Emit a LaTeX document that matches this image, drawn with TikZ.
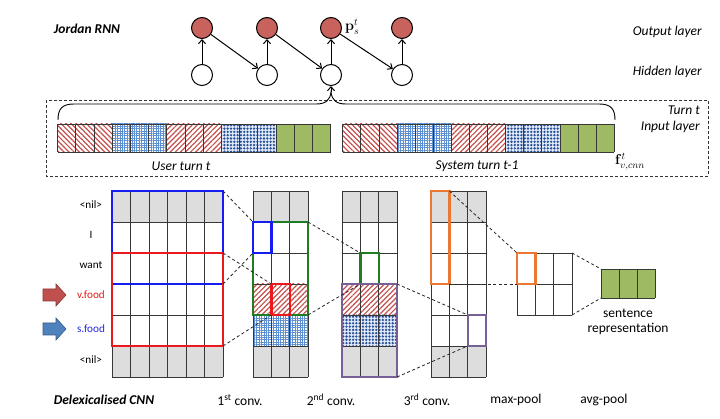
\documentclass[tikz,border=0pt]{standalone}
\usepackage[no-math]{fontspec}
\setmainfont{Carlito}
\usetikzlibrary{patterns.meta,arrows.meta}
\definecolor{nodered}{RGB}{200,98,92}
\definecolor{hatchred}{RGB}{195,80,76}
\definecolor{lblue}{RGB}{95,145,210}
\definecolor{dblue}{RGB}{40,80,150}
\definecolor{dbg}{RGB}{225,234,248}
\definecolor{sgreen}{RGB}{158,186,98}
\definecolor{cellgray}{RGB}{221,221,221}
\definecolor{boxblue}{RGB}{20,30,240}
\definecolor{boxred}{RGB}{235,25,30}
\definecolor{boxgreen}{RGB}{30,125,35}
\definecolor{boxpurple}{RGB}{120,95,150}
\definecolor{boxorange}{RGB}{235,120,50}
\definecolor{gridcol}{RGB}{55,55,55}
\definecolor{arrred}{RGB}{192,80,77}
\definecolor{arrblue}{RGB}{79,129,189}
\definecolor{txtred}{RGB}{230,30,30}
\definecolor{txtblue}{RGB}{40,40,220}
\tikzset{
  lab/.style={inner sep=0pt,font=\fontsize{13.5}{16}\selectfont},
  ilab/.style={inner sep=0pt,font=\fontsize{13.5}{16}\selectfont\itshape},
  blab/.style={inner sep=0pt,font=\fontsize{13.5}{16}\selectfont\bfseries\itshape},
  wlab/.style={inner sep=0pt,font=\fontsize{11.2}{13}\selectfont},
  mlab/.style={inner sep=0pt,font=\fontsize{14}{16}\selectfont},
  onode/.style={circle,draw,line width=1pt,fill=nodered,minimum size=21pt,inner sep=0pt},
  hnode/.style={circle,draw,line width=1pt,fill=white,minimum size=21pt,inner sep=0pt},
  arr/.style={line width=1pt,-{Straight Barb[length=4pt,width=7pt]}},
  gridln/.style={draw=gridcol,line width=0.7pt},
  redA/.style={pattern={Lines[angle=-45,distance=3.6pt,line width=1.2pt]},pattern color=hatchred},
  redB/.style={pattern={Lines[angle=45,distance=3.6pt,line width=1.2pt]},pattern color=hatchred},
  blueL/.style={pattern={Hatch[distance=2.4pt,line width=0.9pt]},pattern color=lblue},
  blueD/.style={fill=dbg,postaction={pattern={Dots[distance=3.3pt,radius=1.3pt]},pattern color=dblue}},
  greenF/.style={fill=sgreen},
  grayF/.style={fill=cellgray},
  tbox/.style={line width=2.4pt},
  dl/.style={draw=black!85,line width=0.8pt,dash pattern=on 3pt off 2.5pt},
}
\newcommand\cellgrid[6]{%
  \foreach \c in {0,...,#5} \draw[gridln] ({#1+\c*#3},#2) -- ({#1+\c*#3},{#2+#6*#4});
  \foreach \r in {0,...,#6} \draw[gridln] (#1,{#2+\r*#4}) -- ({#1+#5*#3},{#2+\r*#4});
}
\newcommand\bargroup[3]{% x0, cell width, style
  \foreach \k in {0,1,2} \path[#3] ({#1+\k*#2},124) rectangle ++(#2,28);
}
\begin{document}
\begin{tikzpicture}[x=1pt,y=-1pt]
\useasboundingbox (0,0) rectangle (720,419);
\fill[white] (0,0) rectangle (720,419);

% ---------------- Jordan RNN ----------------
\node[blab] (title) at (87,29) {Jordan RNN};
\node[ilab,anchor=east] (outl) at (702,32) {Output layer};
\node[ilab,anchor=east] (hidl) at (702,72) {Hidden layer};

\foreach \i/\x in {1/202,2/267,3/331,4/402}{
  \node[onode] (o\i) at (\x,28) {};
  \node[hnode] (h\i) at (\x,75) {};
  \draw[arr] (h\i) -- (o\i);
}
\draw[arr] (o1) -- (h2);
\draw[arr] (o2) -- (h3);
\draw[arr] (o3) -- (h4);
\node[mlab,anchor=west] (plab) at (345,27) {$\mathbf{p}_s^t$};

% ---------------- input layer ----------------
\draw[draw=black!80,line width=0.8pt,dash pattern=on 3pt off 2pt] (46,100) rectangle (708,176);
\node[ilab,anchor=east] (turnt) at (700,110) {Turn t};
\node[ilab,anchor=east] (inl) at (700,127) {Input layer};

\coordinate (btip) at (331,92);
\draw[line width=0.9pt] (58,120) .. controls (58,109) and (62,104) .. (74,104) -- (316,104)
   .. controls (326,104) and (330,100) .. (btip)
   .. controls (332,100) and (336,104) .. (346,104) -- (599,104)
   .. controls (611,104) and (615,109) .. (615,120);
\draw[arr] (btip) -- (h3.south);

% user bar
\bargroup{57.5}{18.2}{redA}
\bargroup{112.1}{18.2}{blueL}
\bargroup{166.7}{18.2}{redB}
\bargroup{221.3}{18.2}{blueD}
\bargroup{275.9}{18.2}{greenF}
\cellgrid{57.5}{124}{18.2}{28}{15}{1}
% system bar
\bargroup{342.7}{18.1}{redA}
\bargroup{397.0}{18.1}{blueL}
\bargroup{451.3}{18.1}{redB}
\bargroup{505.6}{18.1}{blueD}
\bargroup{559.9}{18.1}{greenF}
\cellgrid{342.7}{124}{18.1}{28}{15}{1}

\node[ilab] (usert) at (181,166) {User turn t};
\node[ilab] (syst) at (477,166) {System turn t-1};
\node[mlab,anchor=west] (flab) at (615,162) {$\mathbf{f}_{v,cnn}^t$};

% ---------------- Delexicalised CNN ----------------
\node[wlab] (w1) at (91,205) {<nil>};
\node[wlab] (w2) at (91,235) {I};
\node[wlab] (w3) at (91,265) {want};
\node[wlab,text=txtred] (w4) at (91,295) {v.food};
\node[wlab,text=txtblue] (w5) at (91,329) {s.food};
\node[wlab] (w6) at (91,360) {<nil>};
\draw[fill=arrred,draw=arrred!70!black,line width=0.6pt]
  (43,289) -- (56,289) -- (56,284) -- (66,295) -- (56,306) -- (56,301) -- (43,301) -- cycle;
\draw[fill=arrblue,draw=arrblue!70!black,line width=0.6pt]
  (43,323) -- (56,323) -- (56,318) -- (66,329) -- (56,340) -- (56,335) -- (43,335) -- cycle;

% input matrix
\path[grayF] (112,191) rectangle (223,222);
\path[grayF] (112,346) rectangle (223,377);
\cellgrid{112}{191}{18.5}{31}{6}{6}
\draw[tbox,boxblue] (112,191) rectangle (223,284);
\draw[tbox,boxred] (112,253) rectangle (223,346);

% conv1
\path[grayF] (253,191) rectangle (308,222);
\path[grayF] (253,346) rectangle (308,377);
\path[redB] (253,284) rectangle (308,315);
\path[blueL] (253,315) rectangle (308,346);
\cellgrid{253}{191}{18.333}{31}{3}{6}
\draw[tbox,boxgreen] (253,222) rectangle (308,315);
\draw[tbox,boxblue] (253,222) rectangle (271.3,253);
\draw[tbox,boxred] (271.3,284) rectangle (289.7,315);

% conv2
\path[grayF] (342,191) rectangle (397,222);
\path[grayF] (342,346) rectangle (397,377);
\path[redB] (342,284) rectangle (397,315);
\path[blueD] (342,315) rectangle (397,346);
\cellgrid{342}{191}{18.333}{31}{3}{6}
\draw[tbox,boxgreen] (360.3,253) rectangle (378.7,284);
\draw[tbox,boxpurple] (342,284) rectangle (397,377);

% conv3
\path[grayF] (431,191) rectangle (486,222);
\path[grayF] (431,346) rectangle (486,377);
\cellgrid{431}{191}{18.333}{31}{3}{6}
\draw[tbox,boxorange] (431,191) rectangle (449.3,284);
\draw[tbox,boxpurple] (467.7,315) rectangle (486,346);

% max-pool
\cellgrid{517}{253}{18.333}{31}{3}{2}
\draw[tbox,boxorange] (517,253) rectangle (535.3,284);

% sentence representation
\path[greenF] (601,269) rectangle (655,298);
\cellgrid{601}{269}{18}{29}{3}{1}
\node[lab] (sr1) at (628,313) {sentence};
\node[lab] (sr2) at (628,329) {representation};

% corner coordinates
\coordinate (inBt) at (223,191);   \coordinate (inBb) at (223,284);
\coordinate (inRt) at (223,253);   \coordinate (inRb) at (223,346);
\coordinate (c1Bt) at (253,222);   \coordinate (c1Bb) at (253,253);
\coordinate (c1Rt) at (271.3,284); \coordinate (c1Rb) at (271.3,315);
\coordinate (c1Gt) at (308,222);   \coordinate (c1Gb) at (308,315);
\coordinate (c2Gt) at (360.3,253); \coordinate (c2Gb) at (360.3,284);
\coordinate (c2Pt) at (397,284);   \coordinate (c2Pb) at (397,377);
\coordinate (c3Pt) at (467.7,315); \coordinate (c3Pb) at (467.7,346);
\coordinate (c3Ot) at (449.3,191); \coordinate (c3Ob) at (449.3,284);
\coordinate (mpOt) at (517,253);   \coordinate (mpOb) at (517,284);
\coordinate (mpRt) at (572,253);   \coordinate (mpRb) at (572,315);
\coordinate (srt) at (601,269);    \coordinate (srb) at (601,298);

\draw[dl] (inBt) -- (c1Bt);
\draw[dl] (inBb) -- (c1Bb);
\draw[dl] (inRt) -- (c1Rt);
\draw[dl] (inRb) -- (c1Rb);
\draw[dl] (c1Gt) -- (c2Gt);
\draw[dl] (c1Gb) -- (c2Gb);
\draw[dl] (c2Pt) -- (c3Pt);
\draw[dl] (c2Pb) -- (c3Pb);
\draw[dl] (c3Ot) -- (mpOt);
\draw[dl] (c3Ob) -- (mpOb);
\draw[dl] (mpRt) -- (srt);
\draw[dl] (mpRb) -- (srb);

% bottom labels
\node[blab] (dcnn) at (104,400) {Delexicalised CNN};
\node[lab] (l1) at (240,400) {1\textsuperscript{st} conv.};
\node[lab] (l2) at (331,400) {2\textsuperscript{nd} conv.};
\node[lab] (l3) at (427,400) {3\textsuperscript{rd} conv.};
\node[lab] (l4) at (516,400) {max-pool};
\node[lab] (l5) at (604,400) {avg-pool};
\end{tikzpicture}
\end{document}
